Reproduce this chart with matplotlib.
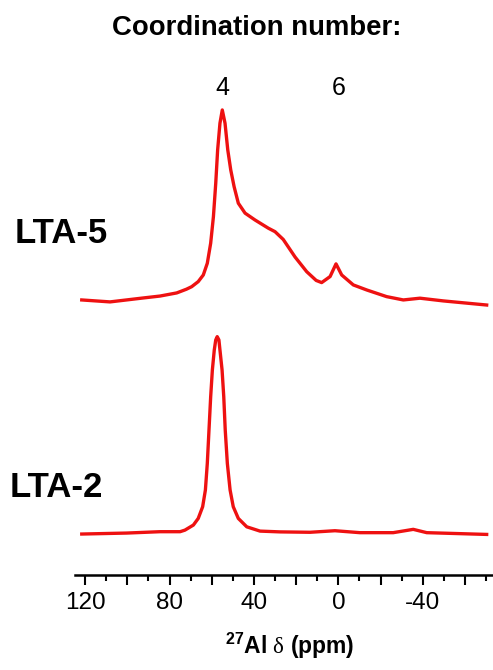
import numpy as np
import matplotlib
matplotlib.use('Agg')
import matplotlib.pyplot as plt

plt.rcParams['font.family'] = ['Liberation Sans', 'DejaVu Sans']
plt.rcParams['mathtext.fontset'] = 'custom'
plt.rcParams['mathtext.rm'] = 'Liberation Serif'
plt.rcParams['mathtext.bf'] = 'Liberation Sans:bold'

# 27Al NMR spectra (chemical shift in ppm, intensity)
lta5_ppm = [121.6, 108.2, 92.6, 84.5, 76.6, 72.0, 69.5, 66.4, 64.0, 62.1, 60.5, 59.2,
            58.1, 57.2, 56.1, 55.0, 53.7, 52.4, 51.0, 49.4, 47.4, 44.2, 39.5, 33.2,
            30.0, 26.1, 20.5, 15.0, 10.5, 7.9, 3.9, 1.1, -1.6, -7.1, -13.5, -22.9,
            -30.8, -38.7, -49.8, -70.3]
lta5_int = [0.00, -0.01, 0.01, 0.02, 0.036, 0.055, 0.068, 0.094, 0.128, 0.188, 0.291, 0.427,
            0.598, 0.769, 0.906, 0.974, 0.906, 0.769, 0.667, 0.581, 0.496, 0.445, 0.41, 0.368,
            0.35, 0.31, 0.22, 0.145, 0.10, 0.089, 0.12, 0.185, 0.128, 0.077, 0.051, 0.017,
            0.0, 0.009, -0.005, -0.026]

lta2_ppm = [121.6, 100.3, 84.5, 75.0, 72.7, 68.7, 66.4, 64.3, 63.0, 62.1, 61.3, 60.5,
            59.7, 58.8, 58.1, 57.4, 56.6, 56.1, 55.1, 54.3, 53.6, 52.6, 51.3, 49.8,
            47.4, 43.4, 37.1, 27.6, 13.4, 1.6, -10.2, -26.0, -35.5, -41.9, -70.3]
lta2_int = [-0.005, 0.0, 0.007, 0.007, 0.015, 0.041, 0.075, 0.135, 0.221, 0.357, 0.528, 0.699,
            0.836, 0.938, 0.99, 1.007, 0.99, 0.938, 0.836, 0.699, 0.528, 0.357, 0.221, 0.135,
            0.075, 0.032, 0.010, 0.006, 0.004, 0.012, 0.002, 0.002, 0.019, 0.002, -0.007]

lta5_offset = 1.195
sample_names = ['LTA-5', 'LTA-2']
coord_labels = ['4', '6']
coord_ppm = [55, 0]

tick_pos = [120, 100, 80, 60, 40, 20, 0, -20, -40, -60]
tick_text = ['120', '', '80', '', '40', '', '0', '', '-40', '']

W, H = 493, 670
fig = plt.figure(figsize=(W / 100, H / 100), dpi=100)
ax = fig.add_axes([75 / W, 1 - 575 / H, 1 - 75 / W, 475 / H])

red = '#ee1111'
ax.plot(lta5_ppm, np.array(lta5_int) + lta5_offset, color=red, lw=2.4)
ax.plot(lta2_ppm, lta2_int, color=red, lw=2.4)

ax.set_xlim(124.8, -73.3)
ax.set_ylim(-0.215, 2.22)

for s in ['top', 'right', 'left']:
    ax.spines[s].set_visible(False)
ax.spines['bottom'].set_linewidth(1.8)
ax.set_yticks([])
ax.set_xticks(tick_pos)
ax.set_xticklabels(tick_text, fontsize=17.5)
ax.set_xticks(np.arange(110, -75, -20), minor=True)
ax.tick_params(axis='x', which='major', length=7.5, width=1.5, pad=5)
ax.tick_params(axis='x', which='minor', length=4, width=1.5)

# labels in figure pixel positions
fig.text(257 / W, 1 - 35 / H, 'Coordination number:', fontsize=19.8, fontweight='bold',
         ha='center', va='baseline')
for lab, p in zip(coord_labels, coord_ppm):
    xd = ax.transData.transform((p, 0))[0]
    fig.text(xd / W, 1 - 95 / H, lab, fontsize=18, ha='center', va='baseline')
fig.text(15 / W, 1 - 243 / H, sample_names[0], fontsize=25, fontweight='bold', va='baseline')
fig.text(10 / W, 1 - 497 / H, sample_names[1], fontsize=25, fontweight='bold', va='baseline')
fig.text(290 / W, 1 - 654 / H, r'$\mathbf{^{27}Al}$ $\mathrm{\delta}$ $\mathbf{(ppm)}$',
         fontsize=16.5, ha='center', va='baseline')

fig.savefig('out.png', dpi=100)
